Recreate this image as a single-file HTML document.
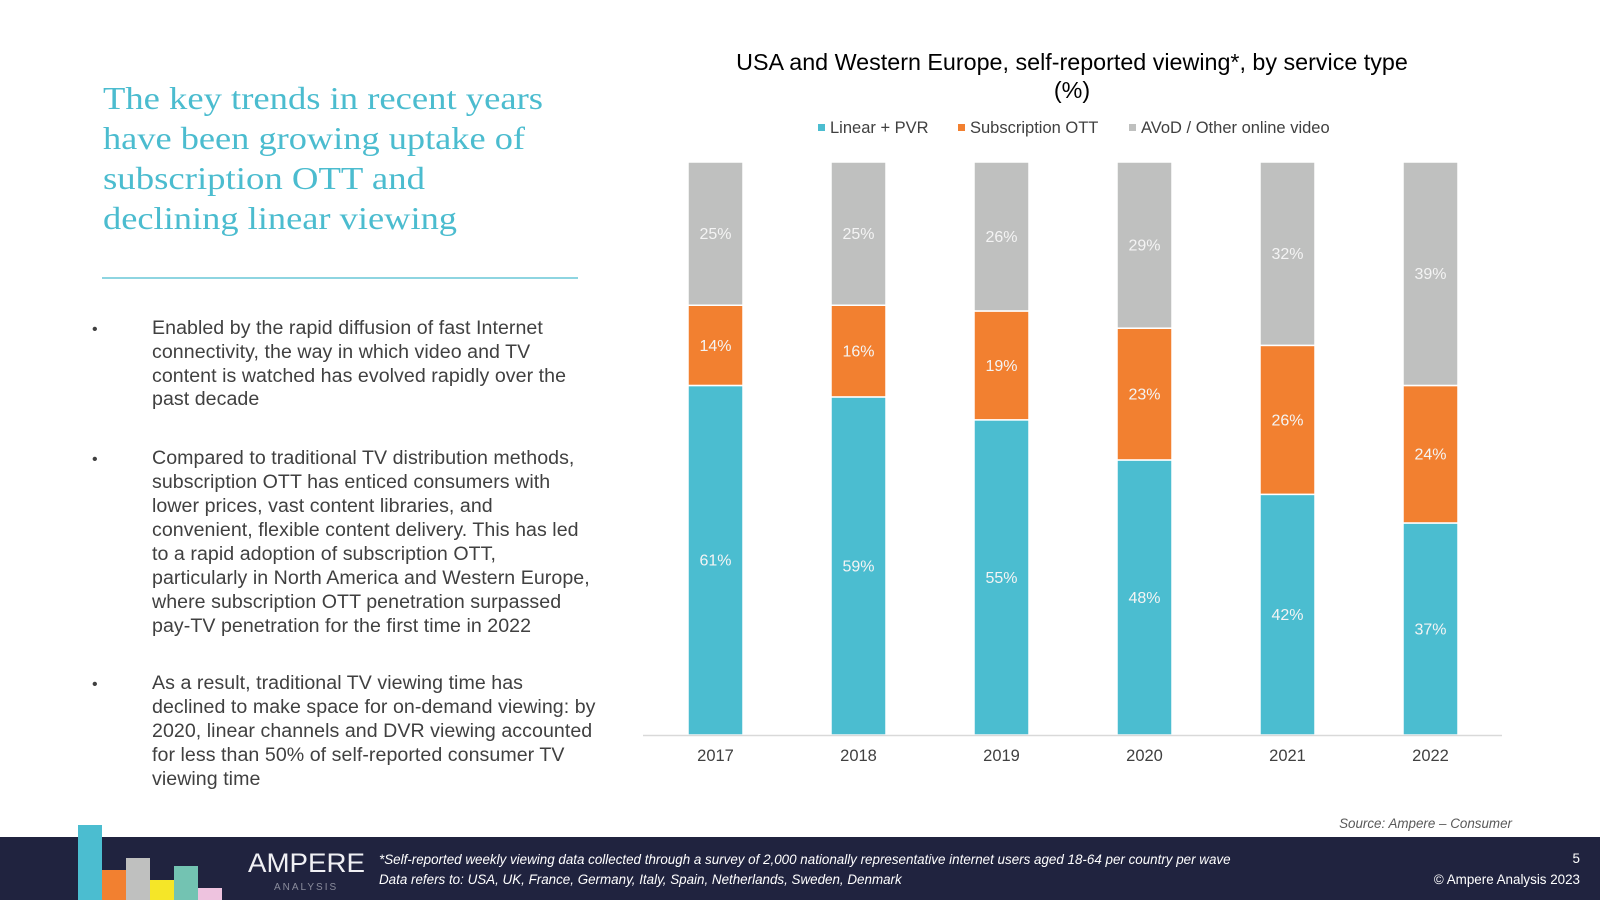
<!DOCTYPE html>
<html><head><meta charset="utf-8">
<style>
html,body{margin:0;padding:0;background:#fff;}
body{width:1600px;height:900px;position:relative;overflow:hidden;font-family:"Liberation Sans",Arial,sans-serif;}
svg{position:absolute;left:0;top:0;}
</style></head>
<body>
<svg width="1600" height="900" viewBox="0 0 1600 900">
  <g font-family="'Liberation Serif',Georgia,serif" font-size="32" fill="#4bbccf">
    <text x="103" y="109" textLength="440" lengthAdjust="spacingAndGlyphs">The key trends in recent years</text>
    <text x="103" y="149" textLength="422" lengthAdjust="spacingAndGlyphs">have been growing uptake of</text>
    <text x="103" y="189" textLength="322" lengthAdjust="spacingAndGlyphs">subscription OTT and</text>
    <text x="103" y="229" textLength="354" lengthAdjust="spacingAndGlyphs">declining linear viewing</text>
  </g>
  <line x1="102" y1="278" x2="578" y2="278" stroke="#4bbccf" stroke-width="1.2"/>

  <g font-size="19.6" fill="#404040" letter-spacing="0.05">
    <text x="92" y="334" font-size="16">•</text>
    <text x="152" y="334">Enabled by the rapid diffusion of fast Internet</text>
    <text x="152" y="358">connectivity, the way in which video and TV</text>
    <text x="152" y="382">content is watched has evolved rapidly over the</text>
    <text x="152" y="405">past decade</text>
    <text x="92" y="464" font-size="16">•</text>
    <text x="152" y="464">Compared to traditional TV distribution methods,</text>
    <text x="152" y="488">subscription OTT has enticed consumers with</text>
    <text x="152" y="512">lower prices, vast content libraries, and</text>
    <text x="152" y="536">convenient, flexible content delivery. This has led</text>
    <text x="152" y="560">to a rapid adoption of subscription OTT,</text>
    <text x="152" y="584">particularly in North America and Western Europe,</text>
    <text x="152" y="608">where subscription OTT penetration surpassed</text>
    <text x="152" y="632">pay-TV penetration for the first time in 2022</text>
    <text x="92" y="689" font-size="16">•</text>
    <text x="152" y="689">As a result, traditional TV viewing time has</text>
    <text x="152" y="713">declined to make space for on-demand viewing: by</text>
    <text x="152" y="737">2020, linear channels and DVR viewing accounted</text>
    <text x="152" y="761">for less than 50% of self-reported consumer TV</text>
    <text x="152" y="785">viewing time</text>
  </g>

  <g font-size="23.3" fill="#000" text-anchor="middle">
    <text x="1072" y="70">USA and Western Europe, self-reported viewing*, by service type</text>
    <text x="1072" y="98">(%)</text>
  </g>
  <g font-size="16.5" fill="#404040">
    <g><rect x="818" y="124" width="7" height="7" fill="#4bbdd0"/><text x="830" y="133">Linear + PVR</text></g>
    <g><rect x="958" y="124" width="7" height="7" fill="#f28030"/><text x="970" y="133">Subscription OTT</text></g>
    <g><rect x="1129" y="124" width="7" height="7" fill="#bfc0bf"/><text x="1141" y="133">AVoD / Other online video</text></g>
  </g>
  <g id="plot"></g>
  <line x1="643" y1="735.5" x2="1502" y2="735.5" stroke="#d9d9d9" stroke-width="1.5"/>

  <text x="1512" y="828" font-size="13.4" font-style="italic" fill="#595959" text-anchor="end">Source: Ampere – Consumer</text>

  <rect x="0" y="837" width="1600" height="63" fill="#20233f"/>
  <g>
    <rect x="78" y="825" width="24" height="75" fill="#4bbdd0"/>
    <rect x="102" y="870" width="24" height="30" fill="#f28030"/>
    <rect x="126" y="858" width="24" height="42" fill="#bfc0bf"/>
    <rect x="150" y="880" width="24" height="20" fill="#f5e628"/>
    <rect x="174" y="866" width="24" height="34" fill="#73c3b2"/>
    <rect x="198" y="888" width="24" height="12" fill="#eec3df"/>
  </g>
  <text x="248" y="872" font-size="27" fill="#f0f0f4" textLength="117" lengthAdjust="spacingAndGlyphs">AMPERE</text>
  <text x="274" y="890" font-size="10" fill="#8a8c9c" letter-spacing="2">ANALYSIS</text>
  <g font-size="13.4" font-style="italic" fill="#fff">
    <text x="379" y="864">*Self-reported weekly viewing data collected through a survey of 2,000 nationally representative internet users aged 18-64 per country per wave</text>
    <text x="379" y="884">Data refers to: USA, UK, France, Germany, Italy, Spain, Netherlands, Sweden, Denmark</text>
  </g>
  <text x="1580" y="863" font-size="13.4" fill="#fff" text-anchor="end">5</text>
  <text x="1580" y="884" font-size="13.4" fill="#fff" text-anchor="end">© Ampere Analysis 2023</text>
</svg>
<script>
const years = ["2017","2018","2019","2020","2021","2022"];
const linear = [61,59,55,48,42,37];
const subscription = [14,16,19,23,26,24];
const avod = [25,25,26,29,32,39];

const NS = "http://www.w3.org/2000/svg";
const plot = document.getElementById('plot');
const x0 = 688, step = 143, barW = 55;
const yBase = 735, yTop = 162;
function xPos(i){ return x0 + i*step; }
function yPos(v){ return yBase - (yBase - yTop) * v / 100; }
const series = [
  {vals: linear, color: "#4bbdd0", name: "linear"},
  {vals: subscription, color: "#f28030", name: "subscription"},
  {vals: avod, color: "#bfc0bf", name: "avod"}
];
years.forEach((yr, i) => {
  let cum = 0;
  series.forEach(s => {
    const v = s.vals[i];
    const y1 = yPos(cum), y2 = yPos(cum + v);
    const r = document.createElementNS(NS, 'rect');
    r.setAttribute('x', xPos(i));
    r.setAttribute('y', y2);
    r.setAttribute('width', barW);
    r.setAttribute('height', Math.max(0, y1 - y2));
    r.setAttribute('fill', s.color);
    r.setAttribute('stroke', '#fff');
    r.setAttribute('stroke-width', '1.5');
    
    
    plot.appendChild(r);
    const t = document.createElementNS(NS, 'text');
    t.setAttribute('x', xPos(i) + barW/2);
    t.setAttribute('y', (y1 + y2)/2 + 5.5);
    t.setAttribute('text-anchor', 'middle');
    t.setAttribute('font-size', '16');
    t.setAttribute('fill', '#f4f4f4');
    t.textContent = v + '%';
    
    
    plot.appendChild(t);
    cum += v;
  });
  const lbl = document.createElementNS(NS, 'text');
  lbl.setAttribute('x', xPos(i) + barW/2);
  lbl.setAttribute('y', 761);
  lbl.setAttribute('text-anchor', 'middle');
  lbl.setAttribute('font-size', '16.5');
  lbl.setAttribute('fill', '#404040');
  lbl.textContent = yr;
  
  
  plot.appendChild(lbl);
});
</script>
</body></html>
